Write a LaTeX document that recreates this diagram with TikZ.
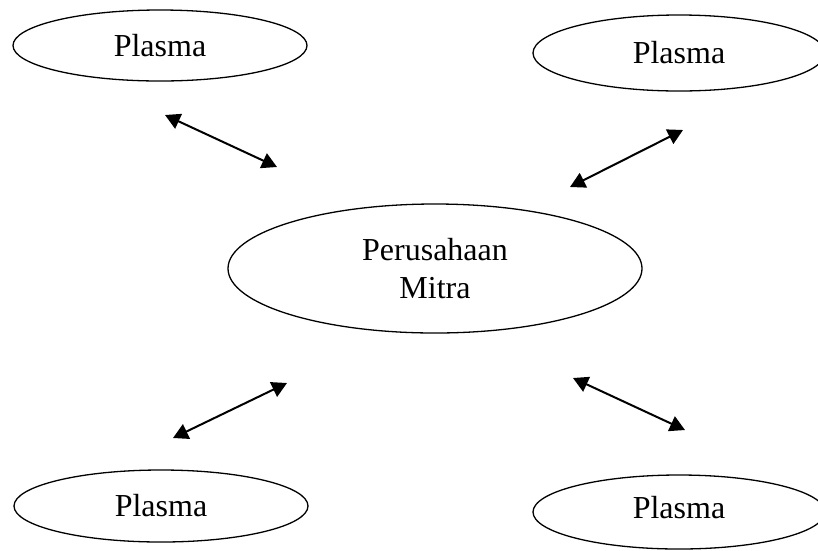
\documentclass[tikz,border=0pt]{standalone}
\usepackage{fontspec}
\setmainfont{Liberation Serif}
\usetikzlibrary{arrows.meta,shapes.geometric}
\begin{document}
\begin{tikzpicture}[x=1pt,y=-1pt,
  bubble/.style={draw, ellipse, line width=1.3pt, inner sep=0pt,
    font=\fontsize{32}{38}\selectfont},
  link/.style={{Triangle[length=15pt,width=16pt]}-{Triangle[length=15pt,width=16pt]}, line width=2pt}]
\useasboundingbox (0,0) rectangle (818,550);
\clip (0,0) rectangle (818,550);
\node[bubble, minimum width=294pt, minimum height=71pt] (tl) at (160,45.5) {Plasma};
\node[bubble, minimum width=292pt, minimum height=76pt] (tr) at (679,53) {Plasma};
\node[bubble, minimum width=414pt, minimum height=129pt, align=center] (mid) at (435,268.5) {Perusahaan\\Mitra};
\node[bubble, minimum width=294pt, minimum height=72pt] (bl) at (161,506) {Plasma};
\node[bubble, minimum width=292pt, minimum height=74pt, text depth=10pt] (br) at (679,512) {Plasma};
\coordinate (a1s) at (165,115);
\coordinate (a1e) at (277,167);
\coordinate (a2s) at (570,187);
\coordinate (a2e) at (683,130);
\coordinate (a3s) at (173,438);
\coordinate (a3e) at (287,383);
\coordinate (a4s) at (573,378);
\coordinate (a4e) at (685,430);
\draw[link] (a1s) -- (a1e);
\draw[link] (a2s) -- (a2e);
\draw[link] (a3s) -- (a3e);
\draw[link] (a4s) -- (a4e);
\end{tikzpicture}
\end{document}
